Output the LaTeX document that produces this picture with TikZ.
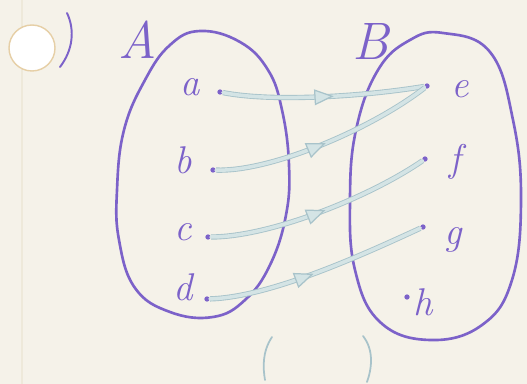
\documentclass[tikz,border=0pt]{standalone}
\usetikzlibrary{arrows.meta,decorations.markings}
\definecolor{paper}{HTML}{F5F2E9}
\definecolor{marginline}{HTML}{EEE9DA}
\definecolor{holeedge}{HTML}{E6CFA6}
\definecolor{penpurple}{HTML}{7C62C9}
\definecolor{arrowfill}{HTML}{D4E4E5}
\definecolor{arrowedge}{HTML}{A8C3CA}

\begin{document}
\begin{tikzpicture}[x=0.02cm,y=-0.02cm,
  pen/.style={penpurple,line width=1.5pt,line cap=round},
  lbl/.style={penpurple,font=\fontsize{22}{24}\selectfont\itshape,inner sep=0pt},
  setname/.style={penpurple,font=\fontsize{30}{32}\selectfont\itshape,inner sep=0pt},
  pt/.style={circle,fill=penpurple,inner sep=0pt,minimum size=3pt},
  maparrow/.style={arrowfill,line width=2pt,line cap=round,
    preaction={draw=arrowedge,line width=3pt},
    postaction={decorate,decoration={markings,mark=at position #1 with
      {\arrow[arrowedge,line width=0.7pt]{Triangle[length=11pt,width=9pt,fill=arrowfill]}}}}}]

  % Paper
  \useasboundingbox (0,0) rectangle (527,384);
  \fill[paper] (0,0) rectangle (527,384);
  \draw[marginline,line width=1pt] (22,0) -- (22,384);
  \fill[white,draw=holeedge,line width=0.8pt] (32,48) circle (23);
  \draw[pen,line width=1.1pt] (67,13) .. controls (75,30) and (73,50) .. (60,67);

  % Set A
  \draw[pen] plot[smooth cycle,tension=0.7] coordinates {
    (200,31) (240,42) (268,70) (282,110) (289,165) (286,215) (270,265)
    (245,300) (213,317) (170,312) (135,288) (119,240) (117,190) (124,130)
    (145,80) (170,45)};
  \node[setname] (nameA) at (138,40) {A};

  % Set B
  \draw[pen] plot[smooth cycle,tension=0.7] coordinates {
    (443,33) (490,52) (513,120) (521,200) (512,280) (482,325) (430,340)
    (380,322) (355,270) (350,200) (356,130) (378,70) (410,40)};
  \node[setname] (nameB) at (371,42) {B};

  % Elements
  \node[pt] (pa) at (220,92) {};
  \node[pt] (pb) at (213,170) {};
  \node[pt] (pc) at (208,237) {};
  \node[pt] (pd) at (207,299) {};
  \node[pt] (pe) at (427,86) {};
  \node[pt] (pf) at (425,159) {};
  \node[pt] (pg) at (423,227) {};
  \node[pt] (ph) at (407,297) {};
  \node[lbl] (la) at (190,87) {a};
  \node[lbl] (lb) at (183,160) {b};
  \node[lbl] (lc) at (183,232) {c};
  \node[lbl] (ld) at (183,287) {d};
  \node[lbl] (le) at (460,89) {e};
  \node[lbl] (lf) at (455,162) {f};
  \node[lbl] (lg) at (453,240) {g};
  \node[lbl] (lh) at (423,302) {h};

  % Mapping
  \draw[maparrow=0.55] (pa) .. controls (270,102) and (360,97) .. (pe);
  \draw[maparrow=0.5] (pb) .. controls (270,172) and (370,130) .. (pe);
  \draw[maparrow=0.52] (pc) .. controls (270,237) and (370,197) .. (pf);
  \draw[maparrow=0.48] (pd) .. controls (270,297) and (360,256) .. (pg);

  % Empty brackets
  \draw[arrowedge,line width=1pt,line cap=round] (272,337) .. controls (262,352) and (263,368) .. (265,380);
  \draw[arrowedge,line width=1pt,line cap=round] (363,336) .. controls (374,350) and (372,368) .. (367,382);
\end{tikzpicture}
\end{document}
